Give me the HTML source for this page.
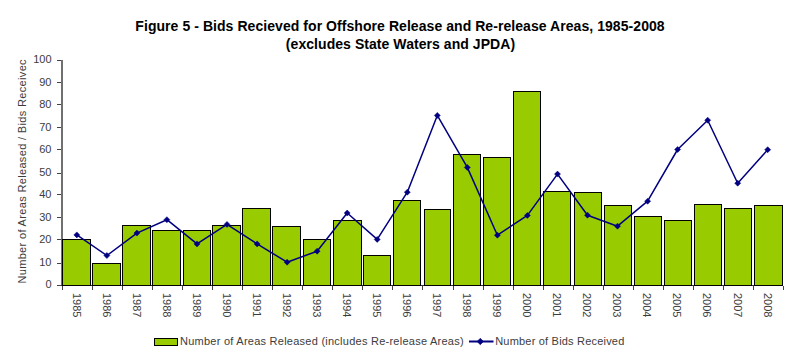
<!DOCTYPE html>
<html><head><meta charset="utf-8"><style>
html,body{margin:0;padding:0;background:#fff;}
svg{display:block;font-family:"Liberation Sans",sans-serif;}
</style></head><body>
<svg width="800" height="357" viewBox="0 0 800 357">
<rect width="800" height="357" fill="#fff"/>
<g font-weight="bold" font-size="14" text-anchor="middle" fill="#000" letter-spacing="0.06">
<text x="400" y="30.7">Figure 5 - Bids Recieved for Offshore Release and Re-release Areas, 1985-2008</text>
<text x="400.5" y="49.3">(excludes State Waters and JPDA)</text>
</g>
<g shape-rendering="crispEdges">
<rect x="61" y="60" width="2" height="226" fill="#707070"/>
<rect x="61" y="285" width="722" height="1" fill="#333"/>
<line x1="57" y1="285.5" x2="61" y2="285.5" stroke="#444"/>
<line x1="57" y1="263.5" x2="61" y2="263.5" stroke="#444"/>
<line x1="57" y1="239.5" x2="61" y2="239.5" stroke="#444"/>
<line x1="57" y1="217.5" x2="61" y2="217.5" stroke="#444"/>
<line x1="57" y1="194.5" x2="61" y2="194.5" stroke="#444"/>
<line x1="57" y1="173.1" x2="61" y2="173.1" stroke="#444"/>
<line x1="57" y1="149.5" x2="61" y2="149.5" stroke="#444"/>
<line x1="57" y1="127.5" x2="61" y2="127.5" stroke="#444"/>
<line x1="57" y1="104.5" x2="61" y2="104.5" stroke="#444"/>
<line x1="57" y1="82.5" x2="61" y2="82.5" stroke="#444"/>
<line x1="57" y1="60.5" x2="61" y2="60.5" stroke="#444"/>
<line x1="62.5" y1="286" x2="62.5" y2="290" stroke="#444"/>
<line x1="92.5" y1="286" x2="92.5" y2="290" stroke="#444"/>
<line x1="122.5" y1="286" x2="122.5" y2="290" stroke="#444"/>
<line x1="152.5" y1="286" x2="152.5" y2="290" stroke="#444"/>
<line x1="182.5" y1="286" x2="182.5" y2="290" stroke="#444"/>
<line x1="212.5" y1="286" x2="212.5" y2="290" stroke="#444"/>
<line x1="242.5" y1="286" x2="242.5" y2="290" stroke="#444"/>
<line x1="272.5" y1="286" x2="272.5" y2="290" stroke="#444"/>
<line x1="302.5" y1="286" x2="302.5" y2="290" stroke="#444"/>
<line x1="332.5" y1="286" x2="332.5" y2="290" stroke="#444"/>
<line x1="362.5" y1="286" x2="362.5" y2="290" stroke="#444"/>
<line x1="392.5" y1="286" x2="392.5" y2="290" stroke="#444"/>
<line x1="422.5" y1="286" x2="422.5" y2="290" stroke="#444"/>
<line x1="453.5" y1="286" x2="453.5" y2="290" stroke="#444"/>
<line x1="483.5" y1="286" x2="483.5" y2="290" stroke="#444"/>
<line x1="513.5" y1="286" x2="513.5" y2="290" stroke="#444"/>
<line x1="543.5" y1="286" x2="543.5" y2="290" stroke="#444"/>
<line x1="573.5" y1="286" x2="573.5" y2="290" stroke="#444"/>
<line x1="603.5" y1="286" x2="603.5" y2="290" stroke="#444"/>
<line x1="633.5" y1="286" x2="633.5" y2="290" stroke="#444"/>
<line x1="663.5" y1="286" x2="663.5" y2="290" stroke="#444"/>
<line x1="693.5" y1="286" x2="693.5" y2="290" stroke="#444"/>
<line x1="723.5" y1="286" x2="723.5" y2="290" stroke="#444"/>
<line x1="753.5" y1="286" x2="753.5" y2="290" stroke="#444"/>
<line x1="783.5" y1="286" x2="783.5" y2="290" stroke="#444"/>
<rect x="62.5" y="239.5" width="28" height="46" fill="#99cc00" stroke="#000" stroke-width="1"/>
<rect x="92.5" y="263.5" width="28" height="22" fill="#99cc00" stroke="#000" stroke-width="1"/>
<rect x="122.5" y="225.5" width="28" height="60" fill="#99cc00" stroke="#000" stroke-width="1"/>
<rect x="152.5" y="230.5" width="28" height="55" fill="#99cc00" stroke="#000" stroke-width="1"/>
<rect x="183.5" y="230.5" width="27" height="55" fill="#99cc00" stroke="#000" stroke-width="1"/>
<rect x="212.5" y="225.5" width="28" height="60" fill="#99cc00" stroke="#000" stroke-width="1"/>
<rect x="242.5" y="208.5" width="28" height="77" fill="#99cc00" stroke="#000" stroke-width="1"/>
<rect x="272.5" y="226.5" width="28" height="59" fill="#99cc00" stroke="#000" stroke-width="1"/>
<rect x="303.5" y="239.5" width="27" height="46" fill="#99cc00" stroke="#000" stroke-width="1"/>
<rect x="333.5" y="220.5" width="28" height="65" fill="#99cc00" stroke="#000" stroke-width="1"/>
<rect x="363.5" y="255.5" width="27" height="30" fill="#99cc00" stroke="#000" stroke-width="1"/>
<rect x="393.5" y="200.5" width="27" height="85" fill="#99cc00" stroke="#000" stroke-width="1"/>
<rect x="424.5" y="209.5" width="26" height="76" fill="#99cc00" stroke="#000" stroke-width="1"/>
<rect x="453.5" y="154.5" width="27" height="131" fill="#99cc00" stroke="#000" stroke-width="1"/>
<rect x="483.5" y="157.5" width="27" height="128" fill="#99cc00" stroke="#000" stroke-width="1"/>
<rect x="513.5" y="91.5" width="27" height="194" fill="#99cc00" stroke="#000" stroke-width="1"/>
<rect x="543.5" y="191.5" width="27" height="94" fill="#99cc00" stroke="#000" stroke-width="1"/>
<rect x="574.5" y="192.5" width="27" height="93" fill="#99cc00" stroke="#000" stroke-width="1"/>
<rect x="604.5" y="205.5" width="27" height="80" fill="#99cc00" stroke="#000" stroke-width="1"/>
<rect x="634.5" y="216.5" width="27" height="69" fill="#99cc00" stroke="#000" stroke-width="1"/>
<rect x="664.5" y="220.5" width="27" height="65" fill="#99cc00" stroke="#000" stroke-width="1"/>
<rect x="694.5" y="204.5" width="27" height="81" fill="#99cc00" stroke="#000" stroke-width="1"/>
<rect x="724.5" y="208.5" width="27" height="77" fill="#99cc00" stroke="#000" stroke-width="1"/>
<rect x="754.5" y="205.5" width="28" height="80" fill="#99cc00" stroke="#000" stroke-width="1"/>
</g>
<polyline points="76.8,234.9 106.9,255.5 136.9,233.1 166.9,219.7 197.0,243.9 227.0,224.4 257.1,243.9 287.1,262.2 317.1,251.2 347.2,213.0 377.2,239.4 407.3,192.2 437.3,115.4 467.3,167.4 497.4,235.2 527.4,215.4 557.5,174.1 587.5,215.2 617.5,226.2 647.6,201.2 677.6,149.5 707.7,120.2 737.7,183.2 767.7,149.7" fill="none" stroke="#000080" stroke-width="1.5" stroke-linejoin="round"/>
<path d="M76.8 231.9 l3 3 l-3 3 l-3 -3 z" fill="#000080" stroke="#000080" stroke-width="0.5" stroke-linejoin="round"/>
<path d="M106.9 252.5 l3 3 l-3 3 l-3 -3 z" fill="#000080" stroke="#000080" stroke-width="0.5" stroke-linejoin="round"/>
<path d="M136.9 230.1 l3 3 l-3 3 l-3 -3 z" fill="#000080" stroke="#000080" stroke-width="0.5" stroke-linejoin="round"/>
<path d="M166.9 216.7 l3 3 l-3 3 l-3 -3 z" fill="#000080" stroke="#000080" stroke-width="0.5" stroke-linejoin="round"/>
<path d="M197.0 240.9 l3 3 l-3 3 l-3 -3 z" fill="#000080" stroke="#000080" stroke-width="0.5" stroke-linejoin="round"/>
<path d="M227.0 221.4 l3 3 l-3 3 l-3 -3 z" fill="#000080" stroke="#000080" stroke-width="0.5" stroke-linejoin="round"/>
<path d="M257.1 240.9 l3 3 l-3 3 l-3 -3 z" fill="#000080" stroke="#000080" stroke-width="0.5" stroke-linejoin="round"/>
<path d="M287.1 259.2 l3 3 l-3 3 l-3 -3 z" fill="#000080" stroke="#000080" stroke-width="0.5" stroke-linejoin="round"/>
<path d="M317.1 248.2 l3 3 l-3 3 l-3 -3 z" fill="#000080" stroke="#000080" stroke-width="0.5" stroke-linejoin="round"/>
<path d="M347.2 210.0 l3 3 l-3 3 l-3 -3 z" fill="#000080" stroke="#000080" stroke-width="0.5" stroke-linejoin="round"/>
<path d="M377.2 236.4 l3 3 l-3 3 l-3 -3 z" fill="#000080" stroke="#000080" stroke-width="0.5" stroke-linejoin="round"/>
<path d="M407.3 189.2 l3 3 l-3 3 l-3 -3 z" fill="#000080" stroke="#000080" stroke-width="0.5" stroke-linejoin="round"/>
<path d="M437.3 112.4 l3 3 l-3 3 l-3 -3 z" fill="#000080" stroke="#000080" stroke-width="0.5" stroke-linejoin="round"/>
<path d="M467.3 164.4 l3 3 l-3 3 l-3 -3 z" fill="#000080" stroke="#000080" stroke-width="0.5" stroke-linejoin="round"/>
<path d="M497.4 232.2 l3 3 l-3 3 l-3 -3 z" fill="#000080" stroke="#000080" stroke-width="0.5" stroke-linejoin="round"/>
<path d="M527.4 212.4 l3 3 l-3 3 l-3 -3 z" fill="#000080" stroke="#000080" stroke-width="0.5" stroke-linejoin="round"/>
<path d="M557.5 171.1 l3 3 l-3 3 l-3 -3 z" fill="#000080" stroke="#000080" stroke-width="0.5" stroke-linejoin="round"/>
<path d="M587.5 212.2 l3 3 l-3 3 l-3 -3 z" fill="#000080" stroke="#000080" stroke-width="0.5" stroke-linejoin="round"/>
<path d="M617.5 223.2 l3 3 l-3 3 l-3 -3 z" fill="#000080" stroke="#000080" stroke-width="0.5" stroke-linejoin="round"/>
<path d="M647.6 198.2 l3 3 l-3 3 l-3 -3 z" fill="#000080" stroke="#000080" stroke-width="0.5" stroke-linejoin="round"/>
<path d="M677.6 146.5 l3 3 l-3 3 l-3 -3 z" fill="#000080" stroke="#000080" stroke-width="0.5" stroke-linejoin="round"/>
<path d="M707.7 117.2 l3 3 l-3 3 l-3 -3 z" fill="#000080" stroke="#000080" stroke-width="0.5" stroke-linejoin="round"/>
<path d="M737.7 180.2 l3 3 l-3 3 l-3 -3 z" fill="#000080" stroke="#000080" stroke-width="0.5" stroke-linejoin="round"/>
<path d="M767.7 146.7 l3 3 l-3 3 l-3 -3 z" fill="#000080" stroke="#000080" stroke-width="0.5" stroke-linejoin="round"/>
<g font-size="11" fill="#3c3c3c">
<text x="51.5" y="288.2" text-anchor="end">0</text>
<text x="51.5" y="265.7" text-anchor="end">10</text>
<text x="51.5" y="243.2" text-anchor="end">20</text>
<text x="51.5" y="220.7" text-anchor="end">30</text>
<text x="51.5" y="198.2" text-anchor="end">40</text>
<text x="51.5" y="175.7" text-anchor="end">50</text>
<text x="51.5" y="153.2" text-anchor="end">60</text>
<text x="51.5" y="130.7" text-anchor="end">70</text>
<text x="51.5" y="108.2" text-anchor="end">80</text>
<text x="51.5" y="85.7" text-anchor="end">90</text>
<text x="51.5" y="63.2" text-anchor="end">100</text>
<text transform="translate(72.6,293) rotate(90)">1985</text>
<text transform="translate(102.6,293) rotate(90)">1986</text>
<text transform="translate(132.7,293) rotate(90)">1987</text>
<text transform="translate(162.7,293) rotate(90)">1988</text>
<text transform="translate(192.8,293) rotate(90)">1989</text>
<text transform="translate(222.8,293) rotate(90)">1990</text>
<text transform="translate(252.8,293) rotate(90)">1991</text>
<text transform="translate(282.9,293) rotate(90)">1992</text>
<text transform="translate(312.9,293) rotate(90)">1993</text>
<text transform="translate(343.0,293) rotate(90)">1994</text>
<text transform="translate(373.0,293) rotate(90)">1995</text>
<text transform="translate(403.0,293) rotate(90)">1996</text>
<text transform="translate(433.1,293) rotate(90)">1997</text>
<text transform="translate(463.1,293) rotate(90)">1998</text>
<text transform="translate(493.2,293) rotate(90)">1999</text>
<text transform="translate(523.2,293) rotate(90)">2000</text>
<text transform="translate(553.2,293) rotate(90)">2001</text>
<text transform="translate(583.3,293) rotate(90)">2002</text>
<text transform="translate(613.3,293) rotate(90)">2003</text>
<text transform="translate(643.4,293) rotate(90)">2004</text>
<text transform="translate(673.4,293) rotate(90)">2005</text>
<text transform="translate(703.4,293) rotate(90)">2006</text>
<text transform="translate(733.5,293) rotate(90)">2007</text>
<text transform="translate(763.5,293) rotate(90)">2008</text>
<text transform="translate(26,283.6) rotate(-90)" letter-spacing="0.34">Number of Areas Released / Bids Receivec</text>
<text x="180" y="345" letter-spacing="0.25">Number of Areas Released (includes Re-release Areas)</text>
<text x="495.2" y="345" letter-spacing="0.2">Number of Bids Received</text>
</g>
<rect x="154.5" y="338.5" width="23" height="7" fill="#99cc00" stroke="#000" shape-rendering="crispEdges"/>
<line x1="469" y1="341.5" x2="493.5" y2="341.5" stroke="#000080" stroke-width="2"/>
<path d="M480.3 338.3 L483.5 341.5 L480.3 344.7 L477.1 341.5 Z" fill="#000080" stroke="#000080" stroke-width="0.6" stroke-linejoin="round"/>
</svg>
</body></html>
